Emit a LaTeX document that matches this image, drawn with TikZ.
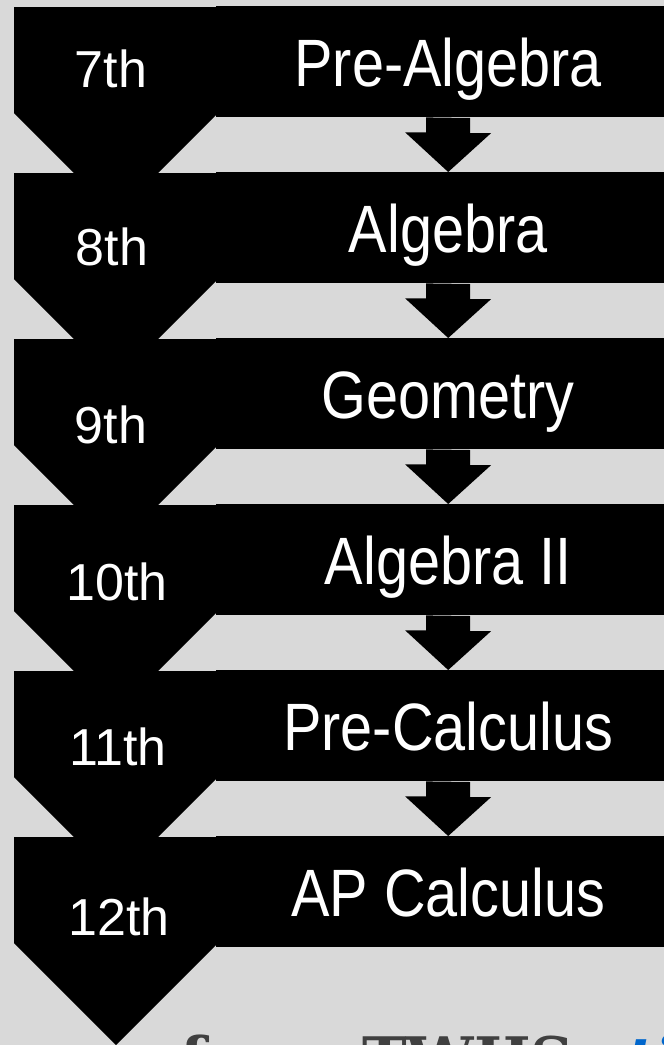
\documentclass[tikz,border=0pt]{standalone}
\usepackage{fontspec}
\setmainfont{Liberation Sans}
\newfontfamily\narrowfont[FakeStretch=0.86]{Liberation Sans}
\newfontfamily\slabfont{DejaVu Serif}
\usetikzlibrary{calc, positioning}
\definecolor{slidegray}{RGB}{217, 217, 217}
\definecolor{sourcegray}{RGB}{64, 64, 64}
\definecolor{sourceblue}{RGB}{0, 102, 204}

\tikzset{
  gradechev/.style={fill=black},
  gradetxt/.style={text=white, anchor=base, inner sep=0pt, font=\fontsize{52}{52}\selectfont},
  coursebox/.style={fill=black, text=white, anchor=north west, inner sep=0pt, minimum width=464pt, minimum height=111pt, text height=49pt, text depth=0pt, font=\narrowfont\fontsize{67}{67}\selectfont},
  nextstep/.style={fill=black}
}

\begin{document}
\begin{tikzpicture}[x=1pt, y=-1pt]
    \fill[slidegray] (0,0) rectangle (664,1045);
    \clip (0,0) rectangle (664,1045);
    \useasboundingbox (0,0) rectangle (664,1045);

    % one row per school year
    \foreach \i/\grade/\course/\gx/\gy in {0/7th/Pre-Algebra/111/80, 1/8th/Algebra/112/92, 2/9th/Geometry/111/104, 3/10th/Algebra II/117/95, 4/11th/Pre-Calculus/118/94, 5/12th/AP Calculus/119/98} {
      \pgfmathsetmacro{\top}{7+166*\i}
      \fill[gradechev] (14,\top) -- ++(204,0) -- ++(0,106) -- ++(-102,102) -- ++(-102,-102) -- cycle;
      \node[gradetxt] (g\i) at (\gx,\top+\gy) {\grade};
      \node[coursebox] (c\i) at (216,\top-1) {\course};
    }

    % small arrows between the courses
    \foreach \i/\j in {0/1, 1/2, 2/3, 3/4, 4/5} {
      \fill[nextstep] ($(c\i.south)+(-22,0)$) -- ++(0,15) -- ++(-21,0) -- (c\j.north) -- ++(43,-39) -- ++(-21,0) -- ++(0,-15) -- cycle;
    }

    % source line, cut off at the bottom
    \node[anchor=base west, inner sep=0pt, text=sourcegray, font=\slabfont\bfseries\fontsize{60}{60}\selectfont] (src) at (180,1080) {from TWHS};
    \node[anchor=base west, inner sep=0pt, text=sourceblue, font=\slabfont\bfseries\itshape\fontsize{60}{60}\selectfont] (srclink) at (626,1080) {ti};
\end{tikzpicture}
\end{document}
